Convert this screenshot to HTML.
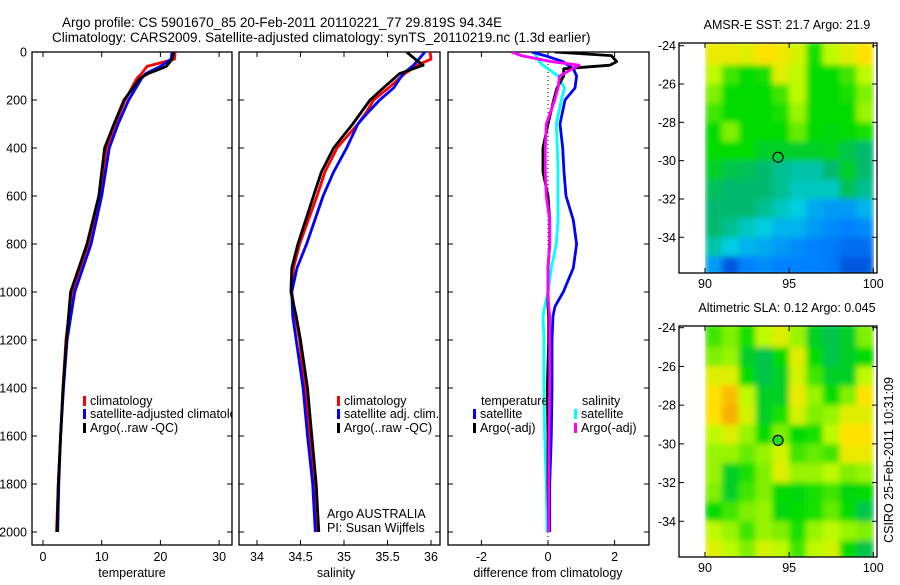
<!DOCTYPE html>
<html><head><meta charset="utf-8"><style>
body{margin:0;background:#fff}
svg text{font-family:"Liberation Sans",sans-serif;fill:#000}
</style></head><body>
<svg id="fig" width="900" height="580" viewBox="0 0 900 580" xmlns="http://www.w3.org/2000/svg">
<defs>
<filter id="blur" x="0" y="0" width="1" height="1"><feGaussianBlur stdDeviation="3" edgeMode="duplicate"/></filter>
<clipPath id="c1"><rect x="32" y="52" width="200" height="493"/></clipPath>
<clipPath id="c2"><rect x="239" y="52" width="201" height="493"/></clipPath>
<clipPath id="c3"><rect x="448" y="52" width="201" height="493"/></clipPath>
<clipPath id="cm1"><rect x="705" y="43" width="172" height="230"/></clipPath>
<clipPath id="cm2"><rect x="705" y="326" width="172" height="231"/></clipPath>
</defs>
<text x="62" y="27" font-size="13.5">Argo profile: CS 5901670_85 20-Feb-2011 20110221_77 29.819S 94.34E</text>
<text x="52" y="42" font-size="13.5">Climatology: CARS2009. Satellite-adjusted climatology: synTS_20110219.nc (1.3d earlier)</text>
<g id="layer"></g>
</svg>
<script>
// ---- data ----
const tDepth=[0,30,60,90,110,200,300,400,600,800,1000,1200,1400,1600,1800,2000];
const tClim=[22.5,22.4,17.7,16.8,16.0,14.0,12.3,10.8,9.7,7.7,4.9,3.9,3.4,3.0,2.6,2.3];
const tArgo=[22.3,22.0,21.0,17.9,16.5,13.8,12.1,10.5,9.5,7.5,4.7,4.0,3.4,3.0,2.6,2.4];
const tSat=[22.0,21.8,20.0,17.5,16.8,14.6,12.8,11.3,10.0,8.2,5.4,4.1,3.5,3.0,2.7,2.5];
const sDepth=[0,30,55,90,150,200,250,300,400,500,600,800,900,1000,1100,1200,1400,1600,1800,2000];
const sClim=[35.99,36.0,35.84,35.70,35.51,35.34,35.26,35.16,34.92,34.78,34.69,34.49,34.42,34.40,34.44,34.49,34.55,34.61,34.66,34.70];
const sArgo=[35.72,35.82,35.91,35.64,35.45,35.30,35.20,35.10,34.88,34.74,34.65,34.47,34.40,34.39,34.45,34.50,34.58,34.63,34.68,34.71];
const sSat=[35.93,35.86,35.80,35.68,35.57,35.41,35.28,35.16,35.03,34.88,34.76,34.57,34.46,34.40,34.41,34.45,34.53,34.58,34.64,34.67];
const dDepth=[0,15,40,55,70,100,150,200,300,400,500,600,700,800,900,1000,1060,1100,1200,1400,1600,1800,2000];
const dTSat=[-0.49,-0.1,0.45,0.6,0.76,0.86,0.81,0.51,0.36,0.44,0.48,0.54,0.76,0.86,0.76,0.46,0.21,0.15,0.12,0.12,0.1,0.05,0.05];
const dTArgo=[0.2,1.9,2.06,1.86,0.47,0.47,0.27,0.17,0.0,-0.15,-0.15,0.0,0.05,0.05,0.0,0.0,0.0,0.02,0.02,-0.02,0.0,0.0,0.02];
const dSArgo=[-1.09,-0.8,0.1,0.93,0.73,0.35,0.3,0.2,-0.05,-0.08,-0.08,-0.05,0.05,0.05,0.0,0.0,0.02,0.05,0.05,0.05,0.03,0.02,0.02];
const dSSat=[-0.4,-0.36,-0.26,-0.15,0.0,0.3,0.5,0.4,0.25,0.28,0.3,0.3,0.3,0.25,0.1,0.0,-0.1,-0.15,-0.12,-0.12,-0.1,-0.05,-0.03];
const depthTicks=[0,200,400,600,800,1000,1200,1400,1600,1800,2000];
const tTicks=[0,10,20,30];
const sTicks=[34,34.5,35,35.5,36];
const dTicks=[-2,0,2];
const latTicks=[-24,-26,-28,-30,-32,-34];
const lonTicks=[90,95,100];
const sstGrid=[
[0.82,0.82,0.8,0.85,0.83,0.78,0.62,0.75,0.8,0.85],
[0.75,0.65,0.6,0.62,0.8,0.75,0.6,0.6,0.65,0.75],
[0.7,0.6,0.6,0.6,0.65,0.75,0.6,0.6,0.62,0.7],
[0.65,0.6,0.6,0.6,0.62,0.72,0.6,0.6,0.6,0.72],
[0.6,0.7,0.6,0.6,0.6,0.68,0.6,0.58,0.6,0.62],
[0.6,0.6,0.6,0.55,0.55,0.55,0.55,0.57,0.5,0.45],
[0.55,0.5,0.48,0.45,0.42,0.4,0.4,0.45,0.55,0.45],
[0.48,0.45,0.45,0.45,0.42,0.38,0.38,0.38,0.48,0.42],
[0.45,0.45,0.45,0.42,0.38,0.35,0.28,0.25,0.25,0.3],
[0.45,0.42,0.38,0.35,0.3,0.3,0.25,0.22,0.2,0.22],
[0.4,0.35,0.3,0.28,0.25,0.22,0.2,0.18,0.15,0.15],
[0.25,0.1,0.2,0.22,0.2,0.2,0.2,0.18,0.1,0.1]];
const slaGrid=[
[0.65,0.7,0.62,0.75,0.8,0.72,0.55,0.5,0.55,0.7],
[0.7,0.72,0.55,0.5,0.6,0.8,0.6,0.5,0.55,0.6],
[0.8,0.8,0.6,0.5,0.55,0.78,0.65,0.55,0.55,0.75],
[0.85,0.9,0.75,0.55,0.55,0.82,0.72,0.6,0.7,0.85],
[0.85,0.92,0.78,0.55,0.62,0.78,0.7,0.72,0.8,0.8],
[0.75,0.8,0.72,0.6,0.7,0.6,0.62,0.75,0.85,0.85],
[0.72,0.72,0.68,0.72,0.78,0.65,0.68,0.65,0.82,0.82],
[0.72,0.55,0.62,0.7,0.8,0.72,0.72,0.75,0.7,0.72],
[0.7,0.55,0.65,0.7,0.6,0.58,0.62,0.65,0.58,0.6],
[0.6,0.65,0.7,0.72,0.58,0.6,0.62,0.68,0.6,0.5],
[0.75,0.72,0.65,0.72,0.7,0.62,0.72,0.75,0.72,0.7],
[0.8,0.75,0.7,0.78,0.75,0.65,0.75,0.78,0.6,0.5]];
const floatLon=94.34, floatLat=-29.82;

// ---- helpers ----
const NS='http://www.w3.org/2000/svg';
const L=document.getElementById('layer');
function mk(tag,attrs,parent){const e=document.createElementNS(NS,tag);for(const k in attrs)e.setAttribute(k,attrs[k]);(parent||L).appendChild(e);return e;}
function txt(x,y,s,size,anchor,parent){const e=mk('text',{x:x,y:y,'font-size':size||12,'text-anchor':anchor||'start'},parent);e.textContent=s;return e;}
const yD=d=>52+0.24*d;
const xT=t=>43+5.87*t;
const xS=s=>257+87*(s-34);
const xD=v=>548+33.3*v;

function panel(name,x0,x1){
  const r=mk('rect',{x:x0,y:52,width:x1-x0,height:493,fill:'none',stroke:'#000','stroke-width':1.3});
  
  
  for(const d of depthTicks){
    const y=yD(d);
    const a=mk('line',{x1:x0,x2:x0+5,y1:y,y2:y,stroke:'#000'});
    
    
    mk('line',{x1:x1-5,x2:x1,y1:y,y2:y,stroke:'#000'});
  }
}
function xticks(name,ticks,fx){
  for(const t of ticks){
    const x=fx(t);
    const a=mk('line',{x1:x,x2:x,y1:545,y2:540,stroke:'#000'});
    
    
    mk('line',{x1:x,x2:x,y1:52,y2:57,stroke:'#000'});
    const tl=txt(x,561,String(t),12.5,'middle');
    
    
  }
}
function line(xs,ds,fx,color,name,clip,w){
  const pts=xs.map((v,i)=>fx(v).toFixed(1)+','+yD(ds[i]).toFixed(1)).join(' ');
  const p=mk('polyline',{points:pts,fill:'none',stroke:color,'stroke-width':w||2.8,'stroke-linejoin':'round','clip-path':'url(#'+clip+')'});
  
  
}
function legendEntry(x,y,color,label,name,parent){
  const m=mk('rect',{x:x,y:y-9,width:3,height:10,fill:color},parent);
  
  
  const t=txt(x+7,y,label,12.5,'start',parent);
  
  
  return t;
}

// ---- panel 1: temperature ----
panel('temperature-panel',32,232);
for(const d of depthTicks){const t=txt(27,yD(d)+4.5,String(d),12.5,'end');
  
  }
xticks('temperature',tTicks,xT);
line(tClim,tDepth,xT,'#f00','temperature-climatology-line','c1');
line(tSat,tDepth,xT,'#00f','temperature-satellite-line','c1');
line(tArgo,tDepth,xT,'#000','temperature-argo-line','c1');
const g1=mk('g',{'clip-path':'url(#c1)'});


legendEntry(83,405,'#f00','climatology','legend-climatology',g1);
legendEntry(83,418,'#00f','satellite-adjusted climatology','legend-satellite-adjusted',g1);
legendEntry(83,432,'#000','Argo(..raw -QC)','legend-argo-raw',g1);
{const t=txt(132,577,'temperature',12.5,'middle');}

// ---- panel 2: salinity ----
panel('salinity-panel',239,440);
xticks('salinity',sTicks,xS);
line(sClim,sDepth,xS,'#f00','salinity-climatology-line','c2');
line(sSat,sDepth,xS,'#00f','salinity-satellite-line','c2');
line(sArgo,sDepth,xS,'#000','salinity-argo-line','c2');
legendEntry(337,405,'#f00','climatology','legend-sal-climatology');
legendEntry(337,418,'#00f','satellite adj. clim.','legend-sal-satellite');
legendEntry(337,432,'#000','Argo(..raw -QC)','legend-sal-argo');
{const t=txt(327,518,'Argo AUSTRALIA',12.5);}
{const t=txt(327,532,'PI: Susan Wijffels',12.5);}
{const t=txt(336,577,'salinity',12.5,'middle');}

// ---- panel 3: difference ----
panel('difference-panel',448,649);
xticks('difference',dTicks,xD);
{const z=mk('line',{x1:xD(0),x2:xD(0),y1:52,y2:545,stroke:'#000','stroke-dasharray':'1,3'});}
line(dSSat,dDepth,xD,'#0ff','salinity-satellite-diff-line','c3');
line(dTSat,dDepth,xD,'#00f','temperature-satellite-diff-line','c3');
line(dTArgo,dDepth,xD,'#000','temperature-argo-diff-line','c3');
line(dSArgo,dDepth,xD,'#f0f','salinity-argo-diff-line','c3');
{const t=txt(481,405,'temperature',12.5);}
{const t=txt(582,405,'salinity',12.5);}
legendEntry(473,418,'#00f','satellite','legend-diff-temp-satellite');
legendEntry(473,432,'#000','Argo(-adj)','legend-diff-temp-argo');
legendEntry(574,418,'#0ff','satellite','legend-diff-sal-satellite');
legendEntry(574,432,'#f0f','Argo(-adj)','legend-diff-sal-argo');
{const t=txt(548,577,'difference from climatology',12.5,'middle');}

// ---- maps ----
const stops=[[0,[0,50,190]],[0.2,[0,130,255]],[0.35,[0,205,225]],[0.45,[0,185,110]],[0.6,[0,220,0]],[0.75,[190,250,0]],[0.85,[255,225,0]],[1,[240,120,0]]];
function cmap(v){
  for(let i=1;i<stops.length;i++){if(v<=stops[i][0]){const a=stops[i-1],b=stops[i],f=(v-a[0])/(b[0]-a[0]);
    return 'rgb('+a[1].map((c,k)=>Math.round(c+f*(b[1][k]-c))).join(',')+')';}}
  return 'rgb(240,120,0)';
}
function map(name,grid,top,bot,lat24,perDeg,clip,title,filled){
  const xL=lon=>705+(lon-90)*16.83;
  const yL=lat=>lat24+(-24-lat)*perDeg;
  const cg=mk('g',{'clip-path':'url(#'+clip+')'});
  const g=mk('g',{filter:'url(#blur)'},cg);
  
  
  for(let r=0;r<grid.length;r++)for(let c=0;c<grid[r].length;c++){
    const x=xL(90+c),y=yL(-24-r)-(r===0?4:0);
    const h=perDeg+0.7+(r===0?4:0);
    const cell=mk('rect',{x:x.toFixed(1),y:y.toFixed(1),width:17.5,height:h.toFixed(1),fill:cmap(grid[r][c])},g);
    
    
  }
  const fr=mk('rect',{x:679,y:top,width:198,height:bot-top,fill:'none',stroke:'#000','stroke-width':1.3});
  
  
  for(const lt of latTicks){const y=yL(lt);
    mk('line',{x1:679,x2:684,y1:y,y2:y,stroke:'#000'});mk('line',{x1:872,x2:877,y1:y,y2:y,stroke:'#000'});
    const t=txt(676,y+4.5,String(lt),12.5,'end');}
  for(const ln of lonTicks){const x=xL(ln);
    mk('line',{x1:x,x2:x,y1:top,y2:top+5,stroke:'#000'});mk('line',{x1:x,x2:x,y1:bot,y2:bot-5,stroke:'#000'});
    const t=txt(x,bot+15,String(ln),12.5,'middle');}
  const c=mk('circle',{cx:xL(floatLon),cy:yL(floatLat),r:5,fill:filled?'#2d2':'none',stroke:'#000','stroke-width':1.2});
  
  
  const t=txt(787,top-14,title,12.5,'middle');
  
  
}
map('sst-map',sstGrid,43,273,45.7,19.16,'cm1','AMSR-E SST: 21.7 Argo: 21.9',false);
map('sla-map',slaGrid,326,557,327.7,19.36,'cm2','Altimetric SLA: 0.12 Argo: 0.045',true);
{const t=txt(0,0,'CSIRO 25-Feb-2011 10:31:09',12.5,'middle');t.setAttribute('transform','translate(893,460) rotate(-90)');
 }
</script>
</body></html>
